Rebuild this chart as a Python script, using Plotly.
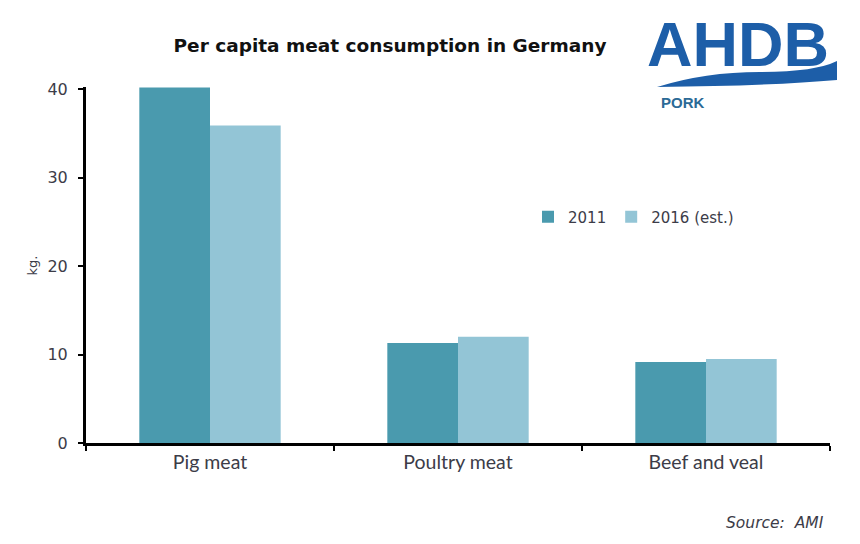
import plotly.graph_objects as go

categories = ["Pig meat", "Poultry meat", "Beef and veal"]
series_names = ["2011", "2016 (est.)"]
values_2011 = [40.2, 11.3, 9.15]
values_2016 = [35.9, 12.0, 9.5]
y_ticks = [0, 10, 20, 30, 40]

colors = ["#4a9aae", "#93c5d6"]

OFF = 8  # page body margin
W, H = 860 - OFF, 544 - OFF
L, R, T, B = 86 - OFF, 30, 87 - OFF, 101
pw, ph = W - L - R, H - T - B

def px(x):
    return (x - OFF - L) / pw

def py(y):
    return (H - B - (y - OFF)) / ph

fig = go.Figure()
for name, vals, c in zip(series_names, [values_2011, values_2016], colors):
    fig.add_trace(go.Bar(x=categories, y=vals, name=name, marker=dict(color=c, line=dict(width=0))))

txt = "#3c3c48"
fig.update_layout(
    width=W, height=H,
    margin=dict(l=L, r=R, t=T, b=B, pad=0),
    paper_bgcolor="white", plot_bgcolor="white",
    barmode="group", bargap=0.43, bargroupgap=0,
    showlegend=True,
    legend=dict(orientation="h", x=px(528), y=py(217), xanchor="left", yanchor="middle",
                font=dict(family="DejaVu Sans, sans-serif", size=15, color=txt),
                bgcolor="rgba(0,0,0,0)", traceorder="normal"),
    title=dict(text="<b>Per capita meat consumption in Germany</b>", x=(390 - OFF) / W, xref="container",
               y=1 - (46 - OFF) / H, yref="container", xanchor="center", yanchor="middle",
               font=dict(family="DejaVu Sans, sans-serif", size=18.5, color="#111111")),
    font=dict(family="Lato, sans-serif", size=15, color=txt),
)
fig.update_xaxes(
    showline=True, linecolor="black", linewidth=3,
    ticks="outside", tickson="boundaries", ticklen=5, tickwidth=2, tickcolor="black",
    tickfont=dict(family="Lato, sans-serif", size=19.5, color=txt),
    showgrid=False, zeroline=False,
)
fig.update_yaxes(
    range=[0, 40.25], tickvals=y_ticks, showline=True, linecolor="black", linewidth=3,
    ticks="outside", ticklen=5, tickwidth=2, tickcolor="black",
    tickfont=dict(family="DejaVu Sans, sans-serif", size=16, color=txt),
    showgrid=False, zeroline=False, ticklabelstandoff=7,
)

fig.add_annotation(text="kg.", textangle=-90, x=px(22), y=py(266), xref="paper", yref="paper",
                   showarrow=False, font=dict(family="DejaVu Sans, sans-serif", size=13, color=txt))
fig.add_annotation(text="<i>Source:  AMI</i>", x=px(826), y=py(523), xref="paper", yref="paper",
                   xanchor="right", yanchor="middle", showarrow=False,
                   font=dict(family="DejaVu Sans, sans-serif", size=15.5, color=txt))

# AHDB logo
fig.add_annotation(text="<b>AHDB</b>", x=px(738), y=py(OFF), xref="paper", yref="paper",
                   xanchor="center", yanchor="top", showarrow=False, borderpad=0,
                   font=dict(family="'Liberation Sans', Arial, sans-serif", size=63, color="#1d5ea8"))
d = 6  # wave vertical shift
path = "M {:.4f},{:.4f} Q {:.4f},{:.4f} {:.4f},{:.4f} T {:.4f},{:.4f} L {:.4f},{:.4f} Q {:.4f},{:.4f} {:.4f},{:.4f} Z".format(
    px(657), py(81 + d), px(705), py(66 + d), px(760), py(66 + d), px(837), py(55 + d),
    px(837), py(74 + d), px(770), py(80 + d), px(657), py(81 + d))
fig.add_shape(type="path", path=path, xref="paper", yref="paper", fillcolor="#1d5ea8", line=dict(width=0), layer="above")
fig.add_annotation(text="<b>PORK</b>", x=px(659), y=py(102), xref="paper", yref="paper",
                   xanchor="left", yanchor="middle", showarrow=False,
                   font=dict(family="'Liberation Sans', Arial, sans-serif", size=15, color="#2b6a96"))

fig.write_html("out.html")
